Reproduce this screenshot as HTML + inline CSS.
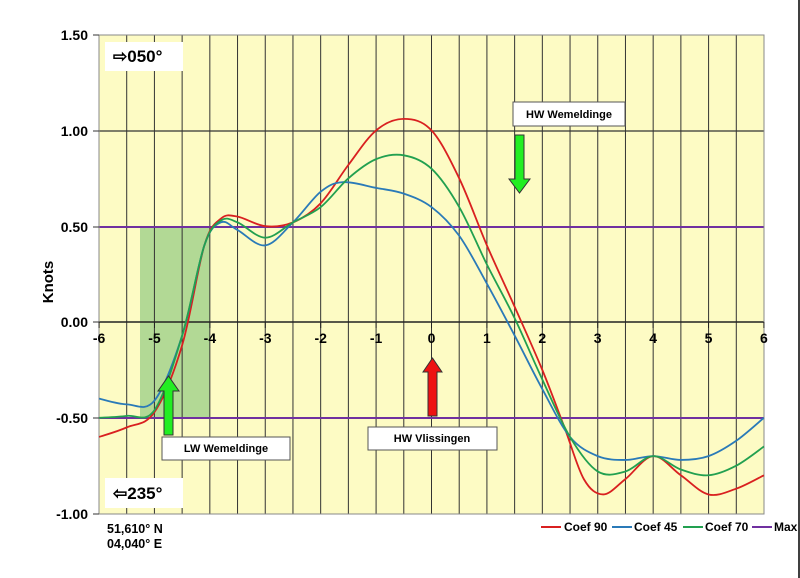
<!DOCTYPE html>
<html><head><meta charset="utf-8"><style>
body{margin:0;background:#fff;}
svg{display:block;font-family:"Liberation Sans",Arial,sans-serif;}
</style></head><body>
<svg id="s" width="800" height="578" viewBox="0 0 800 578">
<rect x="0" y="0" width="800" height="578" fill="#fff"/>
<line x1="799" y1="0" x2="799" y2="578" stroke="#000" stroke-width="1.5"/>
<rect x="99" y="35" width="665" height="479" fill="#fdfbc4"/>
<rect x="140" y="227" width="70" height="192" fill="#a4d28d" opacity="0.85"/>
<g id="grid" stroke="#333" stroke-width="1"></g>
<line x1="99" y1="131" x2="764" y2="131" stroke="#333" stroke-width="1.2"/>
<line x1="99" y1="322" x2="764" y2="322" stroke="#222" stroke-width="1.5"/>
<line x1="99" y1="227" x2="764" y2="227" stroke="#7030a0" stroke-width="2"/>
<line x1="99" y1="418" x2="764" y2="418" stroke="#7030a0" stroke-width="2"/>
<rect x="99" y="35" width="665" height="479" fill="none" stroke="#888" stroke-width="1"/>
<g id="curves" fill="none" stroke-width="1.8"></g>
<g font-size="14" font-weight="bold" fill="#000" text-anchor="end">
<text x="88" y="40">1.50</text><text x="88" y="136">1.00</text><text x="88" y="232">0.50</text>
<text x="88" y="327">0.00</text><text x="88" y="423">-0.50</text><text x="88" y="519">-1.00</text>
</g>
<g stroke="#333"><line x1="93" y1="35" x2="99" y2="35"/><line x1="93" y1="131" x2="99" y2="131"/><line x1="93" y1="227" x2="99" y2="227"/><line x1="93" y1="322" x2="99" y2="322"/><line x1="93" y1="418" x2="99" y2="418"/><line x1="93" y1="514" x2="99" y2="514"/></g>
<g id="xl" font-size="14" font-weight="bold" text-anchor="middle" fill="#000"></g>
<text transform="translate(53,282) rotate(-90)" font-size="15" font-weight="bold" text-anchor="middle">Knots</text>
<rect x="105" y="42" width="78" height="29" fill="#fff"/>
<text x="113" y="62" font-size="17" font-weight="bold">⇨050°</text>
<rect x="105" y="478" width="78" height="30" fill="#fff"/>
<text x="113" y="499" font-size="17" font-weight="bold">⇦235°</text>
<text x="107" y="533" font-size="12.5" font-weight="bold">51,610° N</text>
<text x="107" y="548" font-size="12.5" font-weight="bold">04,040° E</text>
<rect x="513" y="102" width="112" height="24" fill="#fff" stroke="#555"/>
<text x="569" y="118" font-size="11" font-weight="bold" text-anchor="middle">HW Wemeldinge</text>
<rect x="368" y="427" width="129" height="23" fill="#fff" stroke="#555"/>
<text x="432" y="442" font-size="11" font-weight="bold" text-anchor="middle">HW Vlissingen</text>
<rect x="162" y="437" width="128" height="23" fill="#fff" stroke="#555"/>
<text x="226" y="452" font-size="11" font-weight="bold" text-anchor="middle">LW Wemeldinge</text>
<polygon points="515,135 524,135 524,179 530,179 519.5,193 509,179 515,179" fill="#22ee22" stroke="#333"/>
<polygon points="428,416 437,416 437,372 442,372 432.5,358 423,372 428,372" fill="#ee1111" stroke="#333"/>
<polygon points="164,435 173,435 173,391 179,391 168.5,376 158,391 164,391" fill="#22ee22" stroke="#333"/>
<g font-size="12" font-weight="bold">
<line x1="541" y1="527" x2="561" y2="527" stroke="#d92020" stroke-width="2"/><text x="564" y="531">Coef 90</text>
<line x1="612" y1="527" x2="632" y2="527" stroke="#2a7ab8" stroke-width="2"/><text x="634" y="531">Coef 45</text>
<line x1="683" y1="527" x2="703" y2="527" stroke="#22a050" stroke-width="2"/><text x="705" y="531">Coef 70</text>
<line x1="752" y1="527" x2="772" y2="527" stroke="#7030a0" stroke-width="2"/><text x="774" y="531">Max</text>
</g>
</svg>
<script>
var ns="http://www.w3.org/2000/svg";
function X(h){return 431.5+55.4*h;}function Y(v){return 322-191.6*v;}
var g=document.getElementById('grid');
for(var i=1;i<24;i++){var l=document.createElementNS(ns,'line');var x=99+i*665/24;l.setAttribute('x1',x);l.setAttribute('x2',x);l.setAttribute('y1',35);l.setAttribute('y2',514);g.appendChild(l);}
var xl=document.getElementById('xl');
for(var h=-6;h<=6;h++){var t=document.createElementNS(ns,'text');t.setAttribute('x',X(h));t.setAttribute('y',343);t.textContent=h;xl.appendChild(t);
var tk=document.createElementNS(ns,'line');tk.setAttribute('x1',X(h));tk.setAttribute('x2',X(h));tk.setAttribute('y1',322);tk.setAttribute('y2',328);tk.setAttribute('stroke','#222');xl.appendChild(tk);}
var S={
"#d92020":[[-6,-.6],[-5.5,-.55],[-5,-.47],[-4.5,-.12],[-4.1,.4],[-3.8,.54],[-3.5,.55],[-3,.5],[-2.5,.52],[-2,.62],[-1.5,.82],[-1,1.0],[-.5,1.06],[0,1.0],[.5,.75],[1,.4],[1.5,.08],[2,-.25],[2.4,-.55],[2.75,-.82],[3.1,-.9],[3.5,-.82],[4,-.7],[4.5,-.8],[5,-.9],[5.5,-.87],[6,-.8]],
"#2a7ab8":[[-6,-.4],[-5.5,-.43],[-5,-.41],[-4.5,-.07],[-4.1,.4],[-3.8,.52],[-3.5,.48],[-3,.4],[-2.5,.52],[-2,.68],[-1.6,.73],[-1,.7],[-.5,.67],[0,.6],[.5,.45],[1,.2],[1.5,-.07],[2,-.35],[2.5,-.6],[3,-.7],[3.5,-.72],[4,-.7],[4.5,-.72],[5,-.7],[5.5,-.62],[6,-.5]],
"#22a050":[[-6,-.5],[-5.5,-.49],[-5,-.46],[-4.5,-.07],[-4.1,.4],[-3.8,.53],[-3.5,.52],[-3,.44],[-2.5,.52],[-2,.6],[-1.5,.75],[-1,.85],[-.5,.87],[0,.8],[.5,.6],[1,.3],[1.5,.02],[2,-.3],[2.5,-.6],[3,-.78],[3.5,-.78],[4,-.7],[4.5,-.77],[5,-.8],[5.5,-.75],[6,-.65]]};
var c=document.getElementById('curves');
for(var col in S){var p=S[col].map(function(a){return [X(a[0]),Y(a[1])];});
var d="M"+p[0][0]+","+p[0][1];
for(var i=0;i<p.length-1;i++){var p0=p[Math.max(0,i-1)],p1=p[i],p2=p[i+1],p3=p[Math.min(p.length-1,i+2)];
d+=" C"+(p1[0]+(p2[0]-p0[0])/6)+","+(p1[1]+(p2[1]-p0[1])/6)+" "+(p2[0]-(p3[0]-p1[0])/6)+","+(p2[1]-(p3[1]-p1[1])/6)+" "+p2[0]+","+p2[1];}
var e=document.createElementNS(ns,'path');e.setAttribute('d',d);e.setAttribute('stroke',col);c.appendChild(e);}
</script>
</body></html>
